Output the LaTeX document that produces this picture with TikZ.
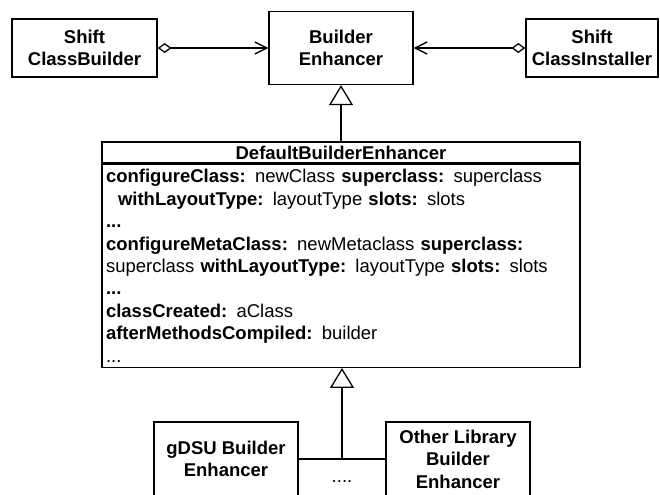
\documentclass[tikz,border=0pt]{standalone}
\usepackage{fontspec}
\setmainfont{Liberation Sans}
\usetikzlibrary{arrows.meta,calc}

\begin{document}
\begin{tikzpicture}[x=0.5pt,y=-0.5pt,line width=0.65pt,
        font=\fontsize{9.25}{11.2}\selectfont,
        classbox/.style={draw,fill=white,align=center,inner sep=0pt,font=\fontsize{9.25}{11.2}\selectfont\bfseries},
        aggr/.style={{Diamond[open,length=7pt,width=5pt]}-{Straight Barb[length=6pt,width=6pt]}},
        genarrow/.style={-{Triangle[open,length=10pt,width=12pt]}}]
        \useasboundingbox (0,0) rectangle (660,494);

        \node[classbox,minimum width=72.5pt,minimum height=29pt] (scb) at (84.5,48) {Shift\\ClassBuilder};
        \node[classbox,minimum width=72pt,minimum height=36.5pt] (be) at (341,48) {Builder\\Enhancer};
        \node[classbox,minimum width=66pt,minimum height=29pt] (sci) at (592,48) {Shift\\ClassInstaller};

        \node[classbox,minimum width=239pt,minimum height=10.5pt] (dbe) at (341,152.5) {DefaultBuilderEnhancer};
        \node[draw,fill=white,anchor=north,text width=235pt,minimum height=101.5pt,inner xsep=2pt,inner ysep=0pt,align=left] (dbeops) at (dbe.south) {%
            \textbf{configureClass:} newClass \textbf{superclass:} superclass\\
            \hspace*{6pt}\textbf{withLayoutType:} layoutType \textbf{slots:} slots\\
            \textbf{...}\\
            \textbf{configureMetaClass:} newMetaclass \textbf{superclass:}\\
            superclass \textbf{withLayoutType:} layoutType \textbf{slots:} slots\\
            \textbf{...}\\
            \textbf{classCreated:} aClass\\
            \textbf{afterMethodsCompiled:} builder\\
            ...};

        \node[classbox,minimum width=72pt,minimum height=37pt] (gdsu) at (226,459) {gDSU Builder\\Enhancer};
        \node[classbox,minimum width=72pt,minimum height=37pt] (olbe) at (458,459) {Other Library\\Builder\\Enhancer};
        \node (more) at (342,482) {....};

        \coordinate (join) at ($(gdsu.east)!0.5!(olbe.west)$);

        \draw[aggr] (scb.east) -- (be.west);
        \draw[aggr] (sci.west) -- (be.east);
        \draw[genarrow] (dbe.north) -- (be.south);
        \draw (gdsu.east) -- (olbe.west);
        \draw[genarrow] (join) -- (join |- dbeops.south);
\end{tikzpicture}
\end{document}
